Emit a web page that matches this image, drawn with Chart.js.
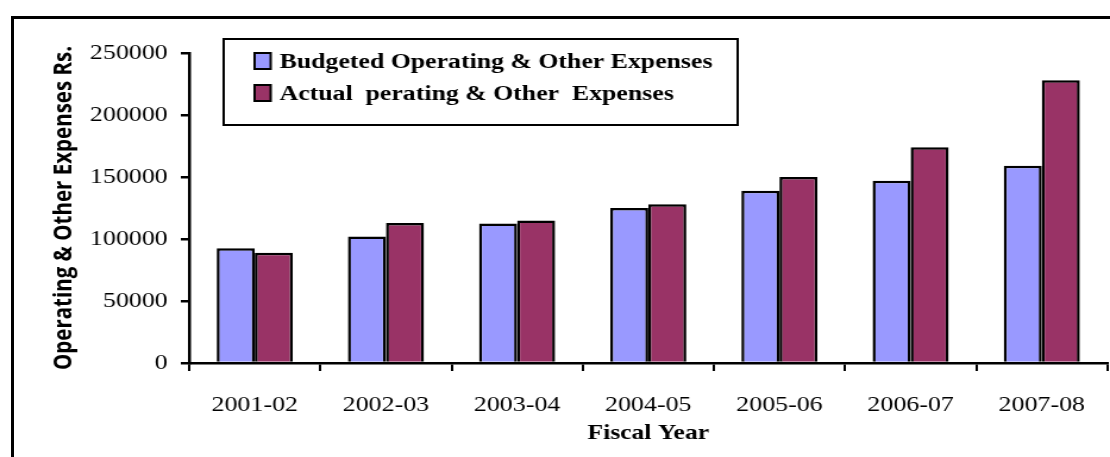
<!DOCTYPE html>
<html>
<head>
<meta charset="utf-8">
<script src="https://cdn.jsdelivr.net/npm/chart.js@4"></script>
<style>
  html, body { margin: 0; padding: 0; background: #fff; overflow: hidden; }
  #frame { position: absolute; left: 11px; top: 16px; width: 1200px; height: 600px; border: 3px solid #000; }
  #c { position: absolute; left: 0; top: 0; }
</style>
</head>
<body>
<div id="frame"></div>
<!-- drawn narrower and stretched to 1110 wide, like the old Excel export -->
<canvas id="c" width="933" height="457" style="width:1110px;height:457px"></canvas>
<script>
const years = ["2001-02", "2002-03", "2003-04", "2004-05", "2005-06", "2006-07", "2007-08"];
const budgeted = [92500, 102000, 112500, 125000, 139000, 147000, 159000];
const actual = [89000, 113000, 115000, 128000, 150000, 174000, 228000];
const seriesNames = ["Budgeted Operating & Other Expenses", "Actual  perating & Other  Expenses"];
const seriesColors = ["#9999FF", "#993366"];

const serif = "'Liberation Serif', 'Times New Roman', serif";

// legend in a bordered box inside the plot, top left
const boxLegend = {
  id: "boxLegend",
  afterDraw(chart) {
    const ctx = chart.ctx;
    ctx.save();
    ctx.fillStyle = "#fff";
    ctx.fillRect(188, 39, 432, 86);
    ctx.strokeStyle = "#000";
    ctx.lineWidth = 2;
    ctx.strokeRect(188, 39, 432, 86);
    ctx.font = "bold 21.7px " + serif;
    ctx.textBaseline = "middle";
    chart.data.datasets.forEach((ds, i) => {
      const y = 61 + i * 32;
      ctx.fillStyle = ds.backgroundColor;
      ctx.fillRect(214, y - 8, 13.5, 16);
      ctx.lineWidth = 2;
      ctx.strokeStyle = "#000";
      ctx.strokeRect(214, y - 8, 13.5, 16);
      ctx.fillStyle = "#000";
      ctx.fillText(ds.label, 235, y + 1);
    });
    ctx.restore();
  }
};

new Chart(document.getElementById("c"), {
  type: "bar",
  data: {
    labels: years,
    datasets: [
      { label: seriesNames[0], data: budgeted, backgroundColor: seriesColors[0] },
      { label: seriesNames[1], data: actual, backgroundColor: seriesColors[1] }
    ]
  },
  options: {
    responsive: false,
    animation: false,
    devicePixelRatio: 1,
    layout: { padding: { top: 53, left: 0, right: 0, bottom: 0 } },
    datasets: {
      bar: { categoryPercentage: 0.58, barPercentage: 1, borderColor: "#000", borderWidth: 2.5 }
    },
    plugins: { legend: { display: false }, tooltip: { enabled: false } },
    scales: {
      x: {
        afterFit: s => { s.height = 94; },
        grid: { offset: true, drawOnChartArea: false, drawTicks: true, tickLength: 8, color: "#000", lineWidth: 2 },
        border: { display: true, color: "#000", width: 2.5 },
        ticks: { color: "#000", padding: 21, font: { family: serif, size: 21.8 } },
        title: {
          display: true, text: "Fiscal Year", color: "#000",
          font: { family: serif, size: 21.5, weight: "bold" },
          padding: { top: 0, bottom: 11 }
        }
      },
      y: {
        min: 0, max: 250000,
        afterFit: s => { s.width = 159; },
        grid: { drawOnChartArea: false, drawTicks: true, tickLength: 7, color: "#000", lineWidth: 2.5 },
        border: { display: true, color: "#000", width: 2.5 },
        ticks: { stepSize: 50000, color: "#000", padding: 11, font: { family: serif, size: 21.8 }, callback: v => String(v) },
        title: {
          display: true, text: "Operating & Other Expenses Rs.", color: "#000",
          font: { family: "'Open Sans', sans-serif", size: 20.5, weight: "bold" },
          padding: { top: 42, bottom: 0 }
        }
      }
    }
  },
  plugins: [boxLegend]
});
</script>
</body>
</html>
